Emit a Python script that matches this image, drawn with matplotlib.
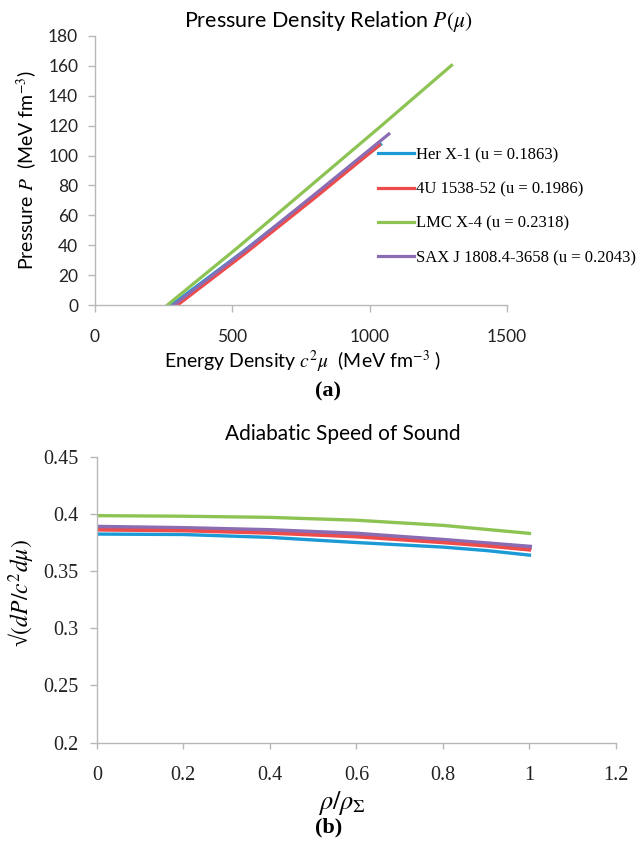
import matplotlib
matplotlib.use("Agg")
import matplotlib.pyplot as plt

plt.rcParams['mathtext.fontset'] = 'stix'

# colours for the four stars
stars = ['Her X-1 (u = 0.1863)', '4U 1538-52 (u = 0.1986)',
         'LMC X-4 (u = 0.2318)', 'SAX J 1808.4-3658 (u = 0.2043)']
colors = ['#1b9ad6', '#ee4b4b', '#8dc352', '#8b6cb3']

# (a) energy density c^2 mu and pressure P, MeV fm^-3
mu_her = [279, 530, 780, 1040]
p_her = [0, 34.5, 70.4, 107.4]
mu_4u = [301, 550, 800, 1036]
p_4u = [0, 35, 71.6, 107]
mu_lmc = [264, 520, 780, 1040, 1298]
p_lmc = [0, 38.5, 79, 119.5, 160.3]
mu_sax = [287, 550, 810, 1070]
p_sax = [0, 37, 75.5, 114.4]

# (b) adiabatic speed of sound against rho/rho_Sigma
r = [0, 0.2, 0.4, 0.6, 0.8, 0.9, 1.0]
v_her = [0.3824, 0.382, 0.3795, 0.375, 0.371, 0.368, 0.364]
v_4u = [0.386, 0.3853, 0.3832, 0.380, 0.3749, 0.372, 0.3685]
v_lmc = [0.3985, 0.398, 0.397, 0.3945, 0.390, 0.3865, 0.383]
v_sax = [0.3884, 0.3873, 0.3855, 0.3824, 0.377, 0.374, 0.371]

sans = 'Lato'
serif = 'Liberation Serif'
grey = '#b8b8b8'

fig = plt.figure(figsize=(6.41, 8.41), dpi=100)


def style_axes(ax):
    for s in ['top', 'right']:
        ax.spines[s].set_visible(False)
    for s in ['left', 'bottom']:
        ax.spines[s].set_color(grey)
        ax.spines[s].set_linewidth(1.0)
    ax.tick_params(direction='out', color=grey, length=5, width=1.0,
                   labelcolor='#222222')


# ---- (a) pressure density relation
ax1 = fig.add_axes([0.148, 0.6373, 0.643, 0.320])
style_axes(ax1)
ax1.plot(mu_her, p_her, color=colors[0], lw=2.3, label=stars[0])
ax1.plot(mu_4u, p_4u, color=colors[1], lw=2.3, label=stars[1])
ax1.plot(mu_lmc, p_lmc, color=colors[2], lw=2.3, label=stars[2])
ax1.plot(mu_sax, p_sax, color=colors[3], lw=2.3, label=stars[3])
ax1.set_xlim(0, 1500)
ax1.set_ylim(0, 180)
ax1.set_xticks([0, 500, 1000, 1500])
ax1.set_yticks(range(0, 181, 20))
ax1.tick_params(axis='x', pad=12)
ax1.tick_params(axis='y', pad=7)
for t in ax1.get_xticklabels() + ax1.get_yticklabels():
    t.set_fontfamily(sans)
    t.set_fontsize(12.5)

leg = ax1.legend(loc='upper left', bbox_to_anchor=(0.589, 0.825),
                 bbox_transform=fig.transFigure, frameon=False,
                 prop={'family': serif, 'size': 12}, handlelength=2.2,
                 handletextpad=0.12, labelspacing=1.1, borderpad=0,
                 borderaxespad=0)

fig.text(0.513, 0.975, r'Pressure Density Relation $P(\mu)$', ha='center',
         va='center', family=sans, fontsize=15.5)
fig.text(0.042, 0.798, r'Pressure $P$  (MeV fm$^{-3}$)', ha='center',
         va='center', rotation=90, family=sans, fontsize=14)
fig.text(0.472, 0.570, r'Energy Density $c^2\mu$  (MeV fm$^{-3}$ )',
         ha='center', va='center', family=sans, fontsize=14)
fig.text(0.511, 0.534, '(a)', ha='center', va='center', family=serif,
         fontsize=16, fontweight='bold')

# ---- (b) adiabatic speed of sound
ax2 = fig.add_axes([0.151, 0.1169, 0.810, 0.340])
style_axes(ax2)
ax2.plot(r, v_sax, color=colors[3], lw=3.6)
ax2.plot(r, v_her, color=colors[0], lw=2.4)
ax2.plot(r, v_4u, color=colors[1], lw=2.4)
ax2.plot(r, v_lmc, color=colors[2], lw=2.4)
ax2.set_xlim(0, 1.2)
ax2.set_ylim(0.2, 0.45)
ax2.set_xticks([0, 0.2, 0.4, 0.6, 0.8, 1.0, 1.2])
ax2.set_xticklabels(['0', '0.2', '0.4', '0.6', '0.8', '1', '1.2'])
ax2.set_yticks([0.2, 0.25, 0.3, 0.35, 0.4, 0.45])
ax2.set_yticklabels(['0.2', '0.25', '0.3', '0.35', '0.4', '0.45'])
ax2.tick_params(axis='x', pad=13, length=4)
ax2.tick_params(axis='y', pad=8)
for t in ax2.get_xticklabels() + ax2.get_yticklabels():
    t.set_fontfamily(serif)
    t.set_fontsize(14.5)

fig.text(0.535, 0.484, 'Adiabatic Speed of Sound', ha='center',
         va='center', family=sans, fontsize=15)
fig.text(0.034, 0.295, r'√$(dP/c^2d\mu)$', ha='center', va='center',
         rotation=90, family=serif, fontsize=17)
fig.text(0.533, 0.045, r'$\rho/\rho_{\Sigma}$', ha='center', va='center',
         fontsize=19)
fig.text(0.512, 0.0155, '(b)', ha='center', va='center', family=serif,
         fontsize=16, fontweight='bold')

fig.savefig('out.png', dpi=100)
